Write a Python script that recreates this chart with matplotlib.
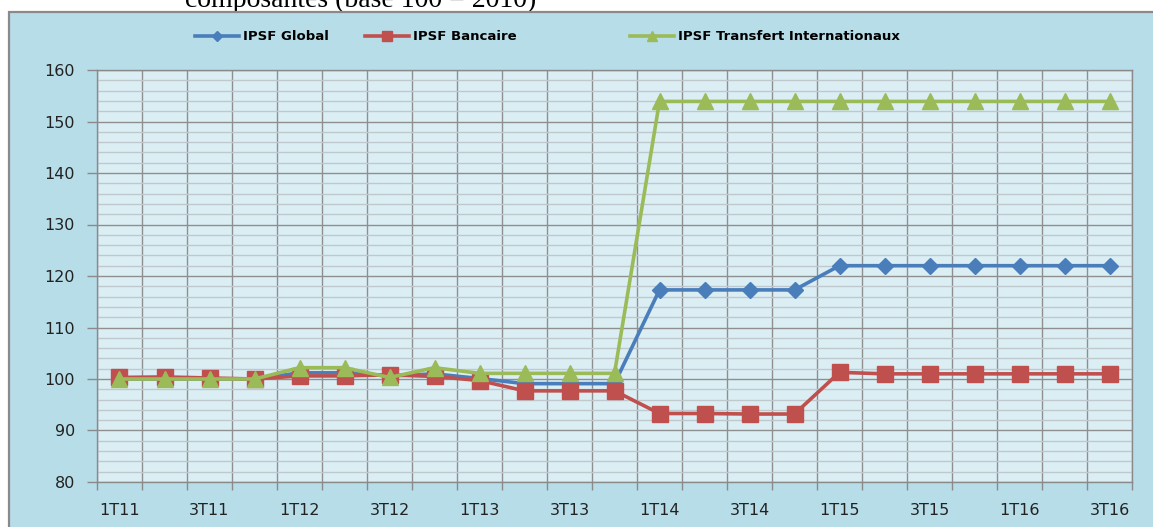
import matplotlib.pyplot as plt
from matplotlib.patches import Rectangle
from matplotlib.ticker import MultipleLocator, FixedLocator

# quarters 1T11 .. 3T16
quarters = ['1T11', '2T11', '3T11', '4T11',
            '1T12', '2T12', '3T12', '4T12',
            '1T13', '2T13', '3T13', '4T13',
            '1T14', '2T14', '3T14', '4T14',
            '1T15', '2T15', '3T15', '4T15',
            '1T16', '2T16', '3T16']

ipsf_global = [100.0, 100.0, 100.0, 100.0, 101.2, 101.2, 100.6, 101.0,
               100.1, 99.1, 99.1, 99.1, 117.3, 117.3, 117.3, 117.3,
               122.0, 122.0, 122.0, 122.0, 122.0, 122.0, 122.0]
ipsf_bancaire = [100.3, 100.4, 100.2, 100.0, 100.6, 100.6, 100.8, 100.5,
                 99.7, 97.7, 97.7, 97.7, 93.3, 93.3, 93.2, 93.2,
                 101.3, 101.0, 101.0, 101.0, 101.0, 101.0, 101.0]
ipsf_transfert = [100.0, 100.0, 100.0, 100.0, 102.2, 102.2, 100.3, 102.2,
                  101.1, 101.1, 101.1, 101.1, 153.9, 153.9, 153.9, 153.9,
                  153.9, 153.9, 153.9, 153.9, 153.9, 153.9, 153.9]

W, H = 1153, 527
fig = plt.figure(figsize=(W / 100, H / 100), dpi=100, facecolor='white')

# cut-off title at the top (partly hidden behind the chart box, as in the source)
fig.text(185 / W, 1 - 7 / H, 'composantes (base 100 = 2010)',
         family='Liberation Serif', fontsize=20, va='baseline', ha='left',
         zorder=-20)

# chart area (Excel style box)
fig.patches.append(Rectangle((9 / W, -0.05), 1.1, 1 - 12 / H + 0.05,
                             transform=fig.transFigure, facecolor='#b7dde8',
                             edgecolor='#8a8a8a', linewidth=1.6, zorder=-10))

ax = fig.add_axes([97 / W, 1 - 482 / H, (1132 - 97) / W, (482 - 70) / H])
ax.set_facecolor('#dbeef4')

x = list(range(len(quarters)))
l1, = ax.plot(x, ipsf_global, color='#4a7ebb', lw=2.6, marker='D', ms=8.5,
              label='IPSF Global', zorder=3)
l2, = ax.plot(x, ipsf_bancaire, color='#c0504d', lw=2.6, marker='s', ms=12,
              label='IPSF Bancaire', zorder=4)
l3, = ax.plot(x, ipsf_transfert, color='#9bbb59', lw=2.6, marker='^', ms=12,
              label='IPSF Transfert Internationaux', zorder=5)

ax.set_xlim(-0.5, len(quarters) - 0.5)
ax.set_ylim(80, 160)

# x: ticks/grid at category boundaries, labels every other quarter
ax.xaxis.set_major_locator(FixedLocator([i - 0.5 for i in range(len(quarters) + 1)]))
ax.set_xticklabels([])
ax.xaxis.set_minor_locator(FixedLocator(x[::2]))
ax.set_xticklabels(quarters[::2], minor=True)
ax.tick_params(axis='x', which='major', length=6, width=1, color='#8a8a8a')
ax.tick_params(axis='x', which='minor', length=0, pad=15, labelsize=11.5,
               labelcolor='#222222')

ax.yaxis.set_major_locator(MultipleLocator(10))
ax.yaxis.set_minor_locator(MultipleLocator(2))
ax.tick_params(axis='y', which='major', length=7, width=1, color='#8a8a8a',
               pad=9, labelsize=11.5, labelcolor='#222222')
ax.tick_params(axis='y', which='minor', length=0)

ax.grid(True, which='major', axis='both', color='#8f8f8f', lw=1.0, zorder=1)
ax.grid(True, which='minor', axis='y', color='#bfc9cd', lw=1.0, zorder=1)
ax.set_axisbelow(True)

for s in ax.spines.values():
    s.set_color('#8a8a8a')
    s.set_linewidth(1.0)

# legend entries placed one by one, like the Excel legend
for line, left in [(l1, 195), (l2, 365), (l3, 630)]:
    fig.legend(handles=[line], loc='center left',
               bbox_to_anchor=(left / W, 1 - 37 / H), frameon=False,
               borderpad=0, borderaxespad=0, handlelength=3.3,
               handletextpad=0.35, markerscale=0.6,
               prop={'family': 'DejaVu Sans', 'weight': 'bold', 'size': 9.5})

fig.savefig('out.png', dpi=100, facecolor='white')
